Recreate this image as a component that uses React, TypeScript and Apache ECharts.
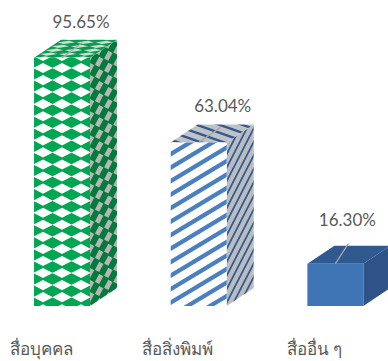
import React, { useEffect, useRef } from "react";
import * as echarts from "echarts";

const categories = ["สื่อบุคคล", "สื่อสิ่งพิมพ์", "สื่ออื่น ๆ"];
const values = [95.65, 63.04, 16.3];

const W = 388;
const H = 361;
const FRONT = 56;
const DX = 27;
const DY = 18;
const CENTER_SHIFT = 21;
const labelOffsets = [
  { line: [20, -15], text: [19, -36] },
  { line: [22, -15], text: [24, -37] },
  { line: [13, -20], text: [12, -44] },
];

type Draw = (c: CanvasRenderingContext2D) => void;

function makeTile(bg: string, m: number[], draw: Draw) {
  const sharp = document.createElement("canvas");
  sharp.width = W;
  sharp.height = H;
  const s = sharp.getContext("2d")!;
  s.fillStyle = bg;
  s.fillRect(0, 0, W, H);
  s.setTransform(m[0], m[1], m[2], m[3], m[4], m[5]);
  draw(s);
  const cv = document.createElement("canvas");
  cv.width = W;
  cv.height = H;
  const c = cv.getContext("2d")!;
  c.drawImage(sharp, 0, 0);
  (c as any).filter = "blur(0.4px)";
  c.drawImage(sharp, 0, 0);
  return { image: cv, repeat: "repeat" } as any;
}

const diamonds = (color: string, P: number, Q: number, kx: number, ky: number): Draw => (c) => {
  c.fillStyle = color;
  c.beginPath();
  for (let i = -12; i < 28; i++) {
    for (let j = -30; j < 40; j++) {
      const x = i * P;
      const y = j * Q;
      c.moveTo(x - P * kx, y);
      c.lineTo(x, y - Q * ky);
      c.lineTo(x + P * kx, y);
      c.lineTo(x, y + Q * ky);
      c.closePath();
    }
  }
  c.fill();
};

const stripes = (color: string, period: number, thick: number, slope: number): Draw => (c) => {
  c.strokeStyle = color;
  c.lineWidth = thick;
  c.beginPath();
  for (let k = -120; k < 120; k++) {
    const y0 = k * period;
    c.moveTo(-800, y0 + 800 * slope);
    c.lineTo(1200, y0 - 1200 * slope);
  }
  c.stroke();
};

function buildFills() {
  const sideM = (ox: number, oy: number) => [DX / FRONT, -DY / FRONT, 0, 1, ox, oy];
  const topM = (ox: number, oy: number) => [1, 0, -DX / FRONT, DY / FRONT, ox, oy];
  return [
    {
      front: makeTile("#00a651", [1, 0, 0, 1, 43, 68], diamonds("#ffffff", 19, 12.06, 0.52, 0.42)),
      side: makeTile("#067a3c", sideM(90, 68), diamonds("#b4b8b4", 19, 12.06, 0.46, 0.42)),
      top: makeTile("#0a9a50", topM(43, 58), diamonds("#d0dcd4", 19, 12.06, 0.46, 0.42)),
    },
    {
      front: makeTile("#ffffff", [1, 0, 0, 1, 0, 0], stripes("#4a7fc0", 13.5, 4.2, 0.6)),
      side: makeTile("#b9bdc2", sideM(226, 142), stripes("#33598f", 13.5, 3.2, 0.62)),
      top: makeTile("#bfc3c8", [1, 0, 0, 1, 0, 0], stripes("#33598f", 8, 2.5, -0.35)),
    },
    { front: "#3f74b5", side: "#2e5487", top: "#30598f" },
  ] as any[];
}

export default function App() {
  const ref = useRef<HTMLDivElement>(null);
  useEffect(() => {
    document.body.style.margin = "0";
    const chart = echarts.init(ref.current!, undefined, { renderer: "svg" });
    const fills = buildFills();
    chart.setOption({
      animation: false,
      backgroundColor: "#ffffff",
      grid: { left: -27.3, top: 46.5, width: 410, height: 259.5, outerBoundsMode: "none" },
      xAxis: {
        type: "category",
        data: categories,
        axisLine: { show: false },
        axisTick: { show: false },
        axisLabel: {
          color: "#595959",
          fontSize: 17,
          margin: 34,
          fontFamily: "'Noto Sans', 'DejaVu Sans', sans-serif",
        },
      },
      yAxis: { type: "value", min: 0, max: 100, show: false, splitLine: { show: false } },
      series: [
        {
          type: "custom",
          clip: false,
          data: values.map((v, i) => [i, v]),
          encode: { x: 0, y: 1 },
          renderItem: (params: any, api: any) => {
            const i = api.value(0);
            const v = api.value(1);
            const top = api.coord([i, v]);
            const base = api.coord([i, 0]);
            const cx = top[0] + CENTER_SHIFT;
            const l = cx - FRONT / 2;
            const r = cx + FRONT / 2;
            const t = top[1];
            const b = base[1];
            const f = fills[i];
            const o = labelOffsets[i];
            return {
              type: "group",
              children: [
                {
                  type: "polygon",
                  shape: { points: [[r, t], [r + DX, t - DY], [r + DX, b - DY], [r, b]] },
                  style: { fill: f.side },
                },
                {
                  type: "polygon",
                  shape: { points: [[l, t], [l + DX, t - DY], [r + DX, t - DY], [r, t]] },
                  style: { fill: f.top },
                },
                {
                  type: "polygon",
                  shape: { points: [[l, t], [r, t], [r, b], [l, b]] },
                  style: { fill: f.front },
                },
                {
                  type: "line",
                  shape: { x1: cx, y1: t, x2: cx + o.line[0], y2: t + o.line[1] },
                  style: { stroke: "#a6a6a6", lineWidth: 1.3 },
                },
                {
                  type: "text",
                  x: cx + o.text[0],
                  y: t + o.text[1],
                  style: {
                    text: v.toFixed(2) + "%",
                    fill: "#595959",
                    font: "17px Lato, 'Open Sans', sans-serif",
                    align: "center",
                    verticalAlign: "middle",
                  },
                },
              ],
            };
          },
        },
      ],
    });
    return () => chart.dispose();
  }, []);
  return <div ref={ref} style={{ position: "absolute", left: 0, top: 0, width: W, height: H }} />;
}
